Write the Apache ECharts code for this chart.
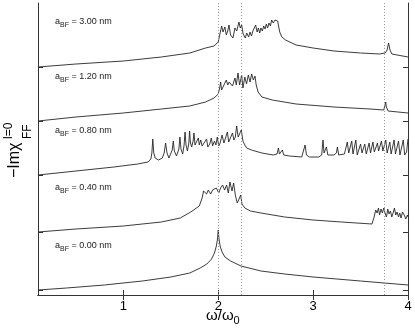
<!DOCTYPE html>
<html>
<head>
<meta charset="utf-8">
<script src="https://cdn.jsdelivr.net/npm/echarts@6/dist/echarts.min.js"></script>
<style>
  html, body { margin: 0; padding: 0; background: #fff; }
  #chart { width: 415px; height: 335px; }
</style>
</head>
<body>
<div id="chart"></div>
<script>
// frequency axis (omega / omega_0)
const xMin = 0.1;
const xMax = 4;
const xTicks = [1, 2, 3, 4];

// dotted reference frequencies
const refLines = [2.0, 2.24, 3.75];

// offsets of each spectrum (left tick marks), bottom to top
const offsets = [5, 63, 120, 174, 228];
const curveLabels = ['0.00', '0.40', '0.80', '1.20', '3.00'];

// spectra, [omega/omega_0, -Im chi] with offset included
const spec000 = [
  [0.1, 5], [0.4, 7], [0.8, 10], [1.2, 14], [1.5, 18], [1.7, 22], [1.81, 27], [1.88, 31],
  [1.93, 36], [1.96, 42], [1.98, 49], [1.992, 56], [2.0, 65], [2.008, 56], [2.02, 49],
  [2.04, 43], [2.07, 38], [2.13, 34], [2.24, 29], [2.45, 24], [2.7, 21], [3.0, 18],
  [3.5, 14], [4.0, 10]
];

const spec040 = [
  [0.1, 63], [0.5, 66], [1.0, 69], [1.4, 73], [1.6, 77], [1.71, 83], [1.8, 89], [1.83, 97],
  [1.845, 104], [1.856, 106], [1.877, 101], [1.895, 105], [1.92, 101], [1.94, 105],
  [1.96, 103], [1.98, 107], [2.005, 102], [2.025, 107], [2.046, 110], [2.067, 105],
  [2.088, 110], [2.106, 102], [2.123, 113], [2.145, 104], [2.162, 112], [2.18, 100],
  [2.2, 92], [2.215, 95], [2.236, 100], [2.25, 91], [2.28, 87], [2.34, 84], [2.45, 82],
  [2.7, 78], [3.0, 75], [3.3, 73], [3.62, 71], [3.64, 77], [3.66, 85], [3.674, 82],
  [3.689, 87], [3.70, 80], [3.716, 86], [3.73, 82], [3.745, 87], [3.758, 82], [3.773, 78],
  [3.787, 86], [3.80, 81], [3.815, 84], [3.829, 78], [3.843, 82], [3.857, 87], [3.871, 80],
  [3.885, 83], [3.90, 78], [3.913, 82], [3.927, 77], [3.942, 83], [3.96, 80], [3.977, 76],
  [3.994, 80], [4.0, 78]
];

const spec080 = [
  [0.1, 120], [0.5, 124], [0.9, 128], [1.15, 131], [1.26, 133], [1.29, 136], [1.30, 142],
  [1.31, 156], [1.32, 142], [1.335, 137], [1.37, 135], [1.41, 137], [1.43, 142], [1.445, 152],
  [1.46, 142], [1.48, 137], [1.5, 139], [1.515, 145], [1.526, 154], [1.537, 144], [1.56, 139],
  [1.585, 146], [1.596, 158], [1.607, 146], [1.625, 141], [1.64, 150], [1.65, 163],
  [1.66, 150], [1.675, 144], [1.69, 152], [1.698, 164], [1.707, 152], [1.72, 148],
  [1.735, 154], [1.744, 162], [1.755, 150], [1.77, 149], [1.79, 157], [1.80, 150],
  [1.815, 155], [1.83, 149], [1.85, 152], [1.877, 156], [1.89, 148], [1.91, 151],
  [1.927, 157], [1.94, 149], [1.96, 154], [1.975, 150], [1.99, 158], [2.005, 149],
  [2.02, 152], [2.04, 160], [2.06, 152], [2.08, 154], [2.096, 163], [2.11, 153], [2.13, 155],
  [2.15, 162], [2.165, 155], [2.18, 158], [2.194, 169], [2.21, 158], [2.225, 156],
  [2.243, 165], [2.26, 154], [2.28, 150], [2.3, 147], [2.35, 145], [2.46, 142], [2.58, 140],
  [2.62, 141], [2.634, 147], [2.645, 141], [2.665, 141], [2.676, 145], [2.69, 140],
  [2.75, 139], [2.88, 138], [2.9, 140], [2.915, 150], [2.93, 140], [2.96, 138], [3.06, 138],
  [3.09, 140], [3.104, 155], [3.115, 142], [3.13, 143], [3.14, 148], [3.155, 140],
  [3.22, 140], [3.245, 142], [3.256, 148], [3.27, 140], [3.33, 141], [3.35, 143], [3.36, 153],
  [3.375, 142], [3.39, 141], [3.407, 154], [3.42, 141], [3.435, 141], [3.45, 155],
  [3.465, 140], [3.485, 142], [3.50, 151], [3.515, 142], [3.53, 141], [3.544, 151],
  [3.56, 141], [3.575, 142], [3.59, 152], [3.605, 142], [3.615, 143], [3.63, 153],
  [3.645, 143], [3.66, 144], [3.678, 152], [3.69, 144], [3.705, 143], [3.72, 154],
  [3.735, 144], [3.75, 146], [3.766, 155], [3.78, 142], [3.795, 143], [3.808, 153],
  [3.822, 141], [3.84, 142], [3.853, 155], [3.868, 141], [3.885, 142], [3.9, 154],
  [3.915, 140], [3.935, 141], [3.95, 155], [3.965, 140], [3.985, 143], [4.0, 156]
];

const spec120 = [
  [0.1, 174], [0.5, 178], [1.0, 182], [1.4, 186], [1.7, 189], [1.867, 193], [1.955, 197],
  [2.0, 201], [2.015, 207], [2.025, 213], [2.035, 205], [2.05, 208], [2.06, 206], [2.085, 215],
  [2.1, 210], [2.115, 213], [2.13, 212], [2.15, 209], [2.176, 217], [2.19, 210], [2.208, 222],
  [2.225, 210], [2.247, 220], [2.26, 207], [2.28, 218], [2.298, 211], [2.317, 220],
  [2.335, 213], [2.352, 221], [2.37, 215], [2.387, 219], [2.4, 210], [2.42, 203], [2.46, 198],
  [2.57, 195], [2.82, 191], [3.22, 188], [3.6, 186], [3.745, 185], [3.755, 189],
  [3.765, 193], [3.772, 188], [3.79, 184], [4.0, 182]
];

const spec300 = [
  [0.1, 228], [0.5, 231], [1.0, 234], [1.4, 238], [1.7, 242], [1.867, 247], [1.955, 249],
  [2.0, 253], [2.015, 260], [2.036, 269], [2.05, 263], [2.07, 268], [2.085, 260], [2.1, 264],
  [2.113, 270], [2.13, 260], [2.155, 257], [2.176, 267], [2.195, 264], [2.218, 273],
  [2.232, 267], [2.247, 270], [2.262, 261], [2.285, 257], [2.3, 262], [2.32, 258],
  [2.335, 263], [2.35, 259], [2.365, 264], [2.38, 262], [2.394, 270], [2.41, 263],
  [2.423, 267], [2.437, 262], [2.45, 267], [2.465, 264], [2.479, 269], [2.493, 266],
  [2.507, 271], [2.52, 267], [2.535, 272], [2.55, 269], [2.563, 275], [2.58, 272],
  [2.598, 275], [2.612, 273], [2.626, 274], [2.648, 263], [2.67, 258], [2.71, 255],
  [2.82, 250], [3.0, 247], [3.22, 244], [3.5, 242], [3.7, 241], [3.76, 242], [3.78, 245],
  [3.795, 252], [3.81, 245], [3.83, 241], [4.0, 238]
];

const spectra = [spec000, spec040, spec080, spec120, spec300];

const FONT = '"Liberation Sans", Arial, Helvetica, sans-serif';
const AXIS_COLOR = '#333';
const LINE_COLOR = '#262626';

// label anchor pixels (left, vertical centre), bottom to top
const labelLeft = 55;
const labelY = [246, 188, 131, 77, 22];

const chart = echarts.init(document.getElementById('chart'), null, { renderer: 'canvas' });

function curveLabel(value, i) {
  return {
    type: 'text',
    x: labelLeft,
    y: labelY[i],
    silent: true,
    style: {
      text: '{a|a}{s|BF}{a| = ' + value + ' nm}',
      verticalAlign: 'middle',
      fill: '#222',
      rich: {
        a: { fontSize: 9, fontFamily: FONT, fill: '#222' },
        s: { fontSize: 7, fontFamily: FONT, fill: '#222', padding: [6, 0, 0, 0] }
      }
    }
  };
}

const sharedTick = { inside: true, length: 5, lineStyle: { color: AXIS_COLOR } };

const series = spectra.map((data, i) => ({
  type: 'line',
  data: data,
  showSymbol: false,
  symbol: 'none',
  lineStyle: { color: LINE_COLOR, width: 0.9 },
  z: 3,
  markLine: i === 0 ? {
    silent: true,
    symbol: ['none', 'none'],
    label: { show: false },
    lineStyle: { color: '#9a9a9a', type: [1, 2], width: 1 },
    data: refLines.map(v => ({ xAxis: v }))
  } : undefined
}));

chart.setOption({
  animation: false,
  backgroundColor: '#fff',
  grid: { left: 38, right: 7, top: 3, bottom: 40 },
  xAxis: [{
    type: 'value',
    min: xMin,
    max: xMax,
    axisLine: { lineStyle: { color: AXIS_COLOR } },
    axisTick: Object.assign({ customValues: xTicks }, sharedTick),
    axisLabel: { customValues: xTicks, color: '#000', fontSize: 13, fontFamily: FONT, margin: 5 },
    splitLine: { show: false }
  }, {
    type: 'value',
    position: 'top',
    min: xMin,
    max: xMax,
    axisLine: { lineStyle: { color: AXIS_COLOR } },
    axisTick: Object.assign({ customValues: xTicks }, sharedTick),
    axisLabel: { show: false },
    splitLine: { show: false }
  }],
  yAxis: [{
    type: 'value',
    min: 0,
    max: 292,
    axisLine: { show: true, lineStyle: { color: AXIS_COLOR } },
    axisTick: Object.assign({ customValues: offsets }, sharedTick),
    axisLabel: { show: false },
    splitLine: { show: false }
  }, {
    type: 'value',
    position: 'right',
    min: 0,
    max: 292,
    axisLine: { show: true, lineStyle: { color: AXIS_COLOR } },
    axisTick: Object.assign({ customValues: offsets }, sharedTick),
    axisLabel: { show: false },
    splitLine: { show: false }
  }],
  series: series,
  graphic: [
    ...curveLabels.map(curveLabel),
    // x axis title: omega / omega_0
    {
      type: 'text',
      x: 206,
      y: 316,
      silent: true,
      style: {
        text: '{a|ω/ω}{b|0}',
        verticalAlign: 'middle',
        rich: {
          a: { fontSize: 15, fontFamily: FONT, fill: '#000' },
          b: { fontSize: 11, fontFamily: FONT, fill: '#000', padding: [10, 0, 0, 0] }
        }
      }
    },
    // y axis title: -Im chi^{l=0}_{FF}, rotated
    {
      type: 'text',
      x: 15,
      y: 178,
      rotation: Math.PI / 2,
      silent: true,
      style: {
        text: '−Imχ',
        align: 'left',
        verticalAlign: 'middle',
        fontSize: 16,
        fontFamily: FONT,
        fill: '#000'
      }
    },
    {
      type: 'text',
      x: 9,
      y: 139,
      rotation: Math.PI / 2,
      silent: true,
      style: {
        text: 'l=0',
        align: 'left',
        verticalAlign: 'middle',
        fontSize: 12,
        fontFamily: FONT,
        fill: '#000'
      }
    },
    {
      type: 'text',
      x: 28,
      y: 139,
      rotation: Math.PI / 2,
      silent: true,
      style: {
        text: 'FF',
        align: 'left',
        verticalAlign: 'middle',
        fontSize: 12,
        fontFamily: FONT,
        fill: '#000'
      }
    }
  ]
});
</script>
</body>
</html>
